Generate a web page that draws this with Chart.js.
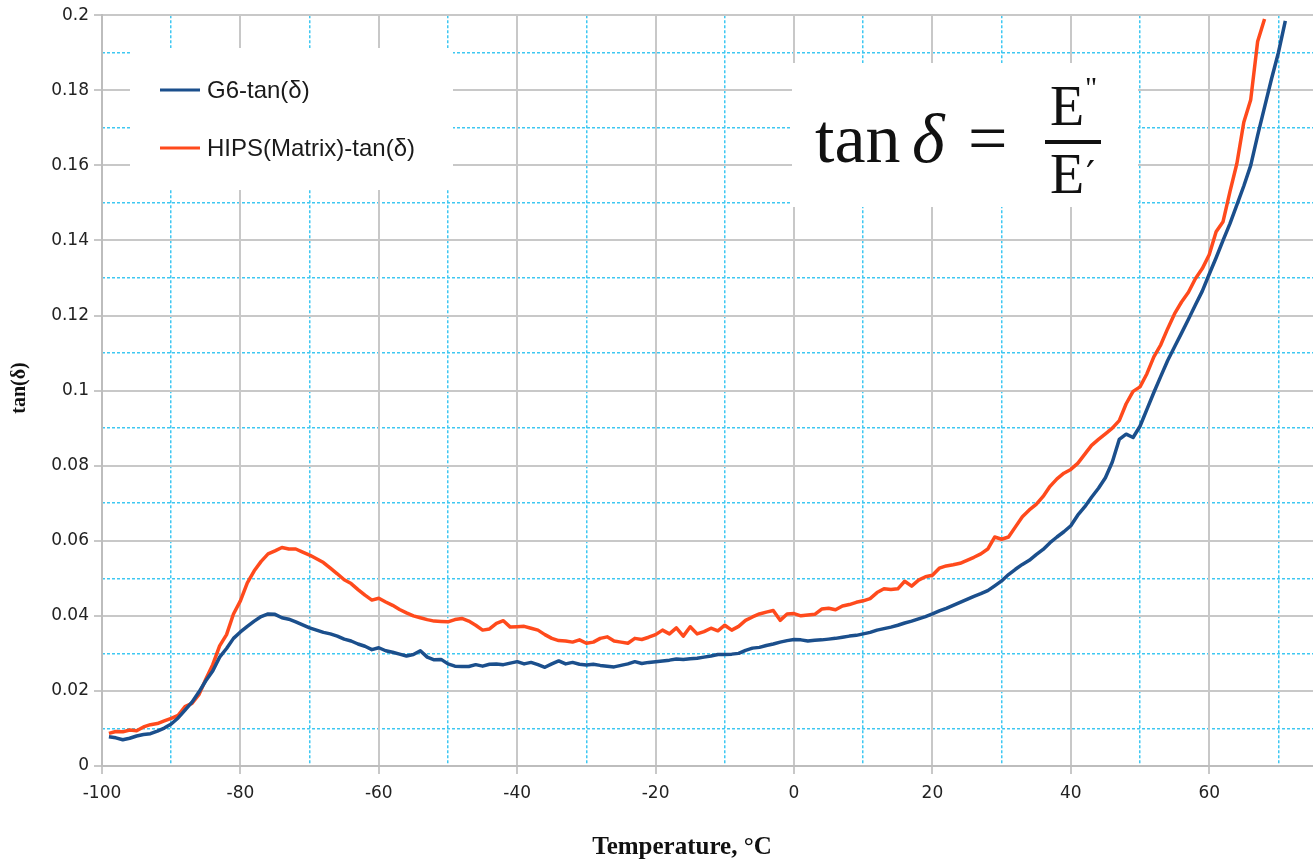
<!DOCTYPE html>
<html>
<head>
<meta charset="utf-8">
<script src="https://cdn.jsdelivr.net/npm/chart.js@4.4.0/dist/chart.umd.min.js"></script>
<style>
  html, body { margin: 0; padding: 0; background: #fff; }
</style>
</head>
<body>
<canvas id="line-chart" width="1313" height="864"></canvas>
<script>
// temperature, °C
var temps = [-99, -98, -97, -96, -95, -94, -93, -92, -91, -90,
    -89, -88, -87, -86, -85, -84, -83, -82, -81, -80,
    -79, -78, -77, -76, -75, -74, -73, -72, -71, -70,
    -69, -68, -67, -66, -65, -64, -63, -62, -61, -60,
    -59, -58, -57, -56, -55, -54, -53, -52, -51, -50,
    -49, -48, -47, -46, -45, -44, -43, -42, -41, -40,
    -39, -38, -37, -36, -35, -34, -33, -32, -31, -30,
    -29, -28, -27, -26, -25, -24, -23, -22, -21, -20,
    -19, -18, -17, -16, -15, -14, -13, -12, -11, -10,
    -9, -8, -7, -6, -5, -4, -3, -2, -1, 0,
    1, 2, 3, 4, 5, 6, 7, 8, 9, 10,
    11, 12, 13, 14, 15, 16, 17, 18, 19, 20,
    21, 22, 23, 24, 25, 26, 27, 28, 29, 30,
    31, 32, 33, 34, 35, 36, 37, 38, 39, 40,
    41, 42, 43, 44, 45, 46, 47, 48, 49, 50,
    51, 52, 53, 54, 55, 56, 57, 58, 59, 60,
    61, 62, 63, 64, 65, 66, 67, 68, 69, 70, 71];

var g6Tan = [0.0078, 0.0075, 0.0070, 0.0074, 0.0080, 0.0084, 0.0086, 0.0093, 0.0101, 0.0112,
    0.0128, 0.0149, 0.0170, 0.0197, 0.0227, 0.0253, 0.0290, 0.0313, 0.0340, 0.0357,
    0.0372, 0.0386, 0.0398, 0.0405, 0.0404, 0.0395, 0.0391, 0.0384, 0.0376, 0.0368,
    0.0362, 0.0356, 0.0352, 0.0346, 0.0338, 0.0333, 0.0325, 0.0319, 0.0310, 0.0315,
    0.0307, 0.0303, 0.0298, 0.0293, 0.0297, 0.0307, 0.0290, 0.0283, 0.0284, 0.0272,
    0.0266, 0.0265, 0.0265, 0.0270, 0.0266, 0.0271, 0.0272, 0.0270, 0.0274, 0.0278,
    0.0272, 0.0276, 0.0270, 0.0263, 0.0272, 0.0280, 0.0272, 0.0276, 0.0271, 0.0269,
    0.0271, 0.0268, 0.0266, 0.0264, 0.0268, 0.0272, 0.0278, 0.0273, 0.0276, 0.0278,
    0.0280, 0.0282, 0.0285, 0.0284, 0.0286, 0.0287, 0.0290, 0.0293, 0.0297, 0.0297,
    0.0298, 0.0300, 0.0308, 0.0314, 0.0316, 0.0321, 0.0325, 0.0330, 0.0334, 0.0337,
    0.0336, 0.0333, 0.0335, 0.0336, 0.0338, 0.0340, 0.0343, 0.0346, 0.0348, 0.0352,
    0.0356, 0.0362, 0.0366, 0.0370, 0.0375, 0.0381, 0.0386, 0.0392, 0.0398, 0.0405,
    0.0413, 0.0420, 0.0428, 0.0436, 0.0444, 0.0452, 0.0459, 0.0467, 0.0480, 0.0493,
    0.0510, 0.0524, 0.0537, 0.0548, 0.0563, 0.0577, 0.0595, 0.0610, 0.0624, 0.0640,
    0.0668, 0.0690, 0.0716, 0.0740, 0.0768, 0.0810, 0.0870, 0.0884, 0.0875, 0.0905,
    0.0950, 0.0995, 0.1038, 0.1080, 0.1117, 0.1153, 0.1190, 0.1228, 0.1265, 0.1310,
    0.1354, 0.1400, 0.1445, 0.1495, 0.1545, 0.1600, 0.1680, 0.1755, 0.1830, 0.1900, 0.1985];

var hipsTan = [0.0087, 0.0092, 0.0091, 0.0096, 0.0094, 0.0104, 0.0110, 0.0113, 0.0120, 0.0127,
    0.0135, 0.0158, 0.0167, 0.0190, 0.0231, 0.0270, 0.0320, 0.0350, 0.0405, 0.0440,
    0.0488, 0.0520, 0.0545, 0.0565, 0.0573, 0.0582, 0.0578, 0.0578, 0.0570, 0.0562,
    0.0552, 0.0542, 0.0527, 0.0512, 0.0496, 0.0486, 0.0470, 0.0455, 0.0442, 0.0447,
    0.0437, 0.0428, 0.0417, 0.0408, 0.0400, 0.0395, 0.0390, 0.0386, 0.0385, 0.0384,
    0.0390, 0.0393, 0.0386, 0.0375, 0.0362, 0.0365, 0.0380, 0.0387, 0.0370, 0.0371,
    0.0372, 0.0367, 0.0362, 0.0350, 0.0340, 0.0334, 0.0333, 0.0330, 0.0336, 0.0327,
    0.0330, 0.0340, 0.0344, 0.0333, 0.0330, 0.0327, 0.0340, 0.0337, 0.0343, 0.0350,
    0.0362, 0.0352, 0.0368, 0.0346, 0.0371, 0.0352, 0.0358, 0.0367, 0.0360, 0.0375,
    0.0362, 0.0372, 0.0388, 0.0397, 0.0405, 0.0410, 0.0414, 0.0388, 0.0405, 0.0406,
    0.0400, 0.0402, 0.0404, 0.0418, 0.0420, 0.0416, 0.0426, 0.0430, 0.0436, 0.0440,
    0.0446, 0.0462, 0.0472, 0.0470, 0.0472, 0.0492, 0.0479, 0.0495, 0.0504, 0.0508,
    0.0527, 0.0533, 0.0536, 0.0540, 0.0548, 0.0556, 0.0565, 0.0578, 0.0610, 0.0604,
    0.0610, 0.0637, 0.0664, 0.0682, 0.0697, 0.0718, 0.0745, 0.0765, 0.0780, 0.0790,
    0.0806, 0.0830, 0.0854, 0.0870, 0.0885, 0.0900, 0.0920, 0.0965, 0.0998, 0.1010,
    0.1045, 0.1090, 0.1122, 0.1165, 0.1205, 0.1236, 0.1262, 0.1298, 0.1325, 0.1362,
    0.1423, 0.1450, 0.1530, 0.1605, 0.1715, 0.1775, 0.1930, 0.1990];

var xTicks = [-100, -80, -60, -40, -20, 0, 20, 40, 60];
var yTicks = [0, 0.02, 0.04, 0.06, 0.08, 0.1, 0.12, 0.14, 0.16, 0.18, 0.2];

function points(ys) {
    return ys.map(function (v, i) { return { x: temps[i], y: v }; });
}

var GRID = '#c8c8c8';
var MINOR = '#3ec8f2';
var tickFont = { family: 'DejaVu Sans', size: 17 };

// legend box, formula box and axis titles
var extras = {
    id: 'extras',
    beforeDatasetsDraw: function (chart) {
        var ctx = chart.ctx;
        ctx.save();
        ctx.fillStyle = '#fff';
        ctx.fillRect(130, 48, 323, 142);
        ctx.fillRect(792, 63, 346, 144);

        var rows = [90, 148];
        chart.data.datasets.forEach(function (ds, i) {
            ctx.strokeStyle = ds.borderColor;
            ctx.lineWidth = 3;
            ctx.beginPath();
            ctx.moveTo(160, rows[i]);
            ctx.lineTo(200, rows[i]);
            ctx.stroke();
            ctx.fillStyle = '#1a1a1a';
            ctx.font = '24px "Liberation Sans"';
            ctx.textBaseline = 'middle';
            ctx.fillText(ds.label, 207, rows[i] + 1);
        });

        // tan δ = E''/E'
        ctx.fillStyle = '#111';
        ctx.textBaseline = 'alphabetic';
        ctx.font = '70px "Liberation Serif"';
        ctx.fillText('tan', 815, 162);
        ctx.font = 'italic 70px "Liberation Serif"';
        ctx.fillText('δ', 912, 162);
        ctx.font = '70px "Liberation Serif"';
        ctx.fillText('=', 968, 162);
        ctx.font = '56px "Liberation Serif"';
        ctx.fillText('E', 1050, 125);
        ctx.fillText('E', 1050, 193);
        ctx.font = '30px "Liberation Serif"';
        ctx.fillText('"', 1085, 97);
        ctx.font = '40px "DejaVu Serif"';
        ctx.fillText('′', 1086, 189);
        ctx.fillRect(1045, 140, 56, 4);
        ctx.restore();
    },
    afterDraw: function (chart) {
        var ctx = chart.ctx;
        ctx.save();
        ctx.fillStyle = '#111';
        ctx.textAlign = 'center';
        ctx.textBaseline = 'middle';
        ctx.font = 'bold 25px "Liberation Serif"';
        ctx.fillText('Temperature, °C', 682, 848);
        ctx.translate(20, 388);
        ctx.rotate(-Math.PI / 2);
        ctx.font = 'bold 20px "Liberation Serif"';
        ctx.fillText('tan(δ)', 0, 0);
        ctx.restore();
    }
};

new Chart(document.getElementById('line-chart'), {
    type: 'line',
    data: {
        datasets: [{
            label: 'G6-tan(δ)',
            data: points(g6Tan),
            borderColor: '#1b4f8c',
            xAxisID: 'x',
            yAxisID: 'y'
        }, {
            label: 'HIPS(Matrix)-tan(δ)',
            data: points(hipsTan),
            borderColor: '#ff4a1c',
            xAxisID: 'x',
            yAxisID: 'y'
        }]
    },
    options: {
        responsive: false,
        animation: false,
        layout: { padding: { top: 15, right: 0, bottom: 0, left: 0 } },
        elements: {
            line: { borderWidth: 3.5, tension: 0, fill: false, borderJoinStyle: 'round' },
            point: { radius: 0 }
        },
        plugins: {
            legend: { display: false },
            title: { display: false },
            tooltip: { enabled: false }
        },
        scales: {
            xMinor: {
                type: 'linear', axis: 'x', position: 'bottom', min: -100, max: 75,
                afterFit: function (s) { s.height = 0; },
                ticks: { display: false, stepSize: 10, includeBounds: false },
                grid: {
                    drawTicks: false, lineWidth: 1.5,
                    color: function (c) { return c.tick && c.tick.value % 20 === 0 ? 'rgba(0,0,0,0)' : MINOR; }
                },
                border: { display: false, dash: [3, 2] }
            },
            yMinor: {
                type: 'linear', axis: 'y', position: 'left', min: 0, max: 0.2,
                afterFit: function (s) { s.width = 0; },
                ticks: { display: false, stepSize: 0.01, includeBounds: false },
                grid: {
                    drawTicks: false, lineWidth: 1.5,
                    color: function (c) { return c.tick && Math.round(c.tick.value * 100) % 2 === 0 ? 'rgba(0,0,0,0)' : MINOR; }
                },
                border: { display: false, dash: [3, 2] }
            },
            x: {
                type: 'linear', axis: 'x', position: 'bottom', min: -100, max: 75,
                afterFit: function (s) { s.height = 98; },
                afterBuildTicks: function (s) { s.ticks = xTicks.map(function (v) { return { value: v }; }); },
                ticks: { padding: 9, color: '#222', font: tickFont, maxRotation: 0 },
                grid: { color: GRID, lineWidth: 2, tickLength: 8, tickColor: GRID },
                border: { color: '#bdbdbd', width: 2 }
            },
            y: {
                type: 'linear', axis: 'y', position: 'left', min: 0, max: 0.2,
                afterFit: function (s) { s.width = 102; },
                afterBuildTicks: function (s) { s.ticks = yTicks.map(function (v) { return { value: v }; }); },
                ticks: {
                    padding: 5, color: '#222', font: tickFont,
                    callback: function (v) { return String(Math.round(v * 100) / 100); }
                },
                grid: { color: GRID, lineWidth: 2, tickLength: 8, tickColor: GRID },
                border: { color: '#bdbdbd', width: 2 }
            }
        }
    },
    plugins: [extras]
});
</script>
</body>
</html>
